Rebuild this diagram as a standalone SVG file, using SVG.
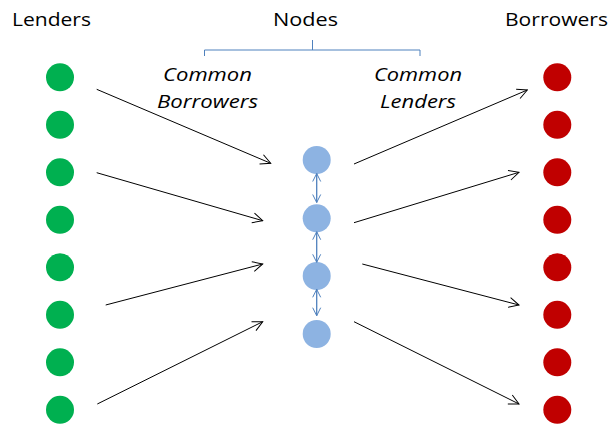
<svg xmlns="http://www.w3.org/2000/svg" width="613" height="425" viewBox="0 0 613 425">
  <style>
    .title { font-family: "Open Sans", "Liberation Sans", sans-serif; font-size: 19px; fill: #000; }
    .sub { font-family: "Open Sans", "Liberation Sans", sans-serif; font-size: 19px; font-style: italic; fill: #000; }
    .lender { fill: #00b050; }
    .borrower { fill: #c00000; }
    .hub { fill: #8db3e2; }
    .flow { stroke: #000; stroke-width: 1; fill: none; marker-end: url(#open); }
    .link { stroke: #4f81bd; stroke-width: 1.3; fill: none; marker-start: url(#openBlue); marker-end: url(#openBlue); }
    .bracket { stroke: #4f81bd; stroke-width: 1; fill: none; }
  </style>
  <defs>
    <marker id="open" viewBox="0 0 12 12" refX="11" refY="6" markerWidth="12" markerHeight="12" markerUnits="userSpaceOnUse" orient="auto-start-reverse">
      <path d="M1,1 L11,6 L1,11" fill="none" stroke="#000" stroke-width="1"/>
    </marker>
    <marker id="openBlue" viewBox="0 0 10 10" refX="9" refY="5" markerWidth="10" markerHeight="10" markerUnits="userSpaceOnUse" orient="auto-start-reverse">
      <path d="M1,1 L9,5 L1,9" fill="none" stroke="#4f81bd" stroke-width="1"/>
    </marker>
  </defs>

  <rect width="613" height="425" fill="#fff"/>

  <!-- column headings -->
  <g id="headings">
    <text class="title" x="12" y="26" textLength="79" lengthAdjust="spacingAndGlyphs">Lenders</text>
    <text class="title" x="273" y="26" textLength="65" lengthAdjust="spacingAndGlyphs">Nodes</text>
    <text class="title" x="505" y="26" textLength="103" lengthAdjust="spacingAndGlyphs">Borrowers</text>
    <path class="bracket" d="M204.5,56 V50 H420 V56 M312.5,40 V50"/>
    <text class="sub" x="163" y="81" textLength="89" lengthAdjust="spacingAndGlyphs">Common</text>
    <text class="sub" x="157" y="108" textLength="101" lengthAdjust="spacingAndGlyphs">Borrowers</text>
    <text class="sub" x="374" y="81" textLength="88" lengthAdjust="spacingAndGlyphs">Common</text>
    <text class="sub" x="380" y="108" textLength="76" lengthAdjust="spacingAndGlyphs">Lenders</text>
  </g>

  <!-- lenders -->
  <g id="lender-1"><circle class="lender" cx="60" cy="77.3" r="14"/></g>
  <g id="lender-2"><circle class="lender" cx="60" cy="124.8" r="14"/></g>
  <g id="lender-3"><circle class="lender" cx="60" cy="172.3" r="14"/></g>
  <g id="lender-4"><circle class="lender" cx="60" cy="219.8" r="14"/></g>
  <g id="lender-5"><circle class="lender" cx="60" cy="267.3" r="14"/></g>
  <g id="lender-6"><circle class="lender" cx="60" cy="314.8" r="14"/></g>
  <g id="lender-7"><circle class="lender" cx="60" cy="362.3" r="14"/></g>
  <g id="lender-8"><circle class="lender" cx="60" cy="409.8" r="14"/></g>

  <!-- intermediary nodes -->
  <g id="node-1"><circle class="hub" cx="316.7" cy="160" r="14"/></g>
  <g id="node-2"><circle class="hub" cx="316.7" cy="218.3" r="14"/></g>
  <g id="node-3"><circle class="hub" cx="316.7" cy="276" r="14"/></g>
  <g id="node-4"><circle class="hub" cx="316.7" cy="334" r="14"/></g>

  <!-- borrowers -->
  <g id="borrower-1"><circle class="borrower" cx="557.3" cy="77.3" r="14"/></g>
  <g id="borrower-2"><circle class="borrower" cx="557.3" cy="124.8" r="14"/></g>
  <g id="borrower-3"><circle class="borrower" cx="557.3" cy="172.3" r="14"/></g>
  <g id="borrower-4"><circle class="borrower" cx="557.3" cy="219.8" r="14"/></g>
  <g id="borrower-5"><circle class="borrower" cx="557.3" cy="267.3" r="14"/></g>
  <g id="borrower-6"><circle class="borrower" cx="557.3" cy="314.8" r="14"/></g>
  <g id="borrower-7"><circle class="borrower" cx="557.3" cy="362.3" r="14"/></g>
  <g id="borrower-8"><circle class="borrower" cx="557.3" cy="409.8" r="14"/></g>

  <!-- connectors -->
  <g id="connectors">
    <line class="flow" x1="96.7" y1="89.3" x2="270.7" y2="163.3"/>
    <line class="flow" x1="96.7" y1="172.7" x2="262.7" y2="220.7"/>
    <line class="flow" x1="105.7" y1="305" x2="262.7" y2="264"/>
    <line class="flow" x1="97.3" y1="404" x2="262.7" y2="321.7"/>

    <line class="flow" x1="354" y1="164" x2="527.3" y2="90"/>
    <line class="flow" x1="354" y1="222.7" x2="519" y2="172.3"/>
    <line class="flow" x1="362.3" y1="264" x2="519" y2="305"/>
    <line class="flow" x1="354" y1="321.7" x2="519" y2="404"/>

    <line class="link" x1="316.7" y1="173.5" x2="316.7" y2="202.5"/>
    <line class="link" x1="316.7" y1="231.7" x2="316.7" y2="262.3"/>
    <line class="link" x1="316.7" y1="289.3" x2="316.7" y2="315.7"/>
  </g>
</svg>
